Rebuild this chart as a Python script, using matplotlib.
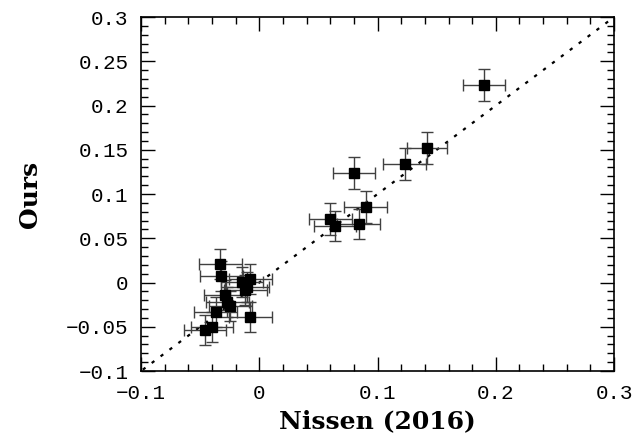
import matplotlib
matplotlib.use("Agg")
import matplotlib.pyplot as plt
from matplotlib.ticker import MultipleLocator

# abundance differences: Nissen (2016) vs ours
nissen = [0.190, 0.142, 0.123, 0.080, 0.090, 0.084, 0.060, 0.064,
          -0.033, -0.032, -0.0145, -0.0075, -0.0117, -0.0100, -0.0287,
          -0.0270, -0.0245, -0.0370, -0.0075, -0.0399, -0.0460]
ours = [0.223, 0.152, 0.134, 0.124, 0.0855, 0.066, 0.072, 0.0636,
        0.0206, 0.0073, 0.0009, 0.0044, -0.0085, -0.0054, -0.0140,
        -0.0220, -0.0270, -0.0330, -0.0387, -0.0507, -0.0540]
nissen_err = [0.018, 0.017, 0.018, 0.018, 0.018, 0.018, 0.018, 0.018,
              0.018, 0.018, 0.018, 0.018, 0.018, 0.018, 0.018,
              0.018, 0.018, 0.018, 0.018, 0.018, 0.018]
ours_err = [0.018, 0.018, 0.018, 0.018, 0.018, 0.017, 0.018, 0.017,
            0.017, 0.017, 0.017, 0.017, 0.017, 0.017, 0.017,
            0.017, 0.017, 0.017, 0.017, 0.017, 0.017]

plt.rcParams["font.family"] = ["DejaVu Serif"]

fig = plt.figure(figsize=(6.41, 4.37), dpi=100)
ax = fig.add_axes([0.22, 0.151, 0.738, 0.81])

ax.plot([-0.1, 0.3], [-0.1, 0.3], linestyle=(4, (1.5, 3.5)), color="black", lw=1.6)
ax.errorbar(nissen, ours, xerr=nissen_err, yerr=ours_err, fmt="s",
            color="black", ecolor="0.25", elinewidth=1, capsize=4.5,
            markersize=7)

ax.set_xlim(-0.1, 0.3)
ax.set_ylim(-0.1, 0.3)
ax.xaxis.set_major_locator(MultipleLocator(0.1))
ax.xaxis.set_minor_locator(MultipleLocator(0.02))
ax.yaxis.set_major_locator(MultipleLocator(0.05))
ax.yaxis.set_minor_locator(MultipleLocator(0.01))
ax.tick_params(which="both", direction="in", top=True, right=True, width=1)
ax.tick_params(which="major", length=10)
ax.tick_params(which="minor", length=5)
ax.tick_params(axis="x", which="major", pad=9)
ax.tick_params(axis="y", which="major", pad=9)
for s in ax.spines.values():
    s.set_linewidth(1.2)

fmt = plt.FuncFormatter(lambda v, p: f"{v:g}".replace("-", "\u2212"))
ax.xaxis.set_major_formatter(fmt)
ax.yaxis.set_major_formatter(fmt)
for lab in ax.get_xticklabels() + ax.get_yticklabels():
    lab.set_family(["Liberation Mono", "DejaVu Sans"])
    lab.set_fontsize(15)

ax.set_xlabel("Nissen (2016)", fontsize=18, fontweight="bold")
ax.set_ylabel("Ours", fontsize=18, fontweight="bold")
ax.xaxis.set_label_coords(0.5, -0.108)
ax.yaxis.set_label_coords(-0.21, 0.5)

fig.savefig("out.png", dpi=100)
